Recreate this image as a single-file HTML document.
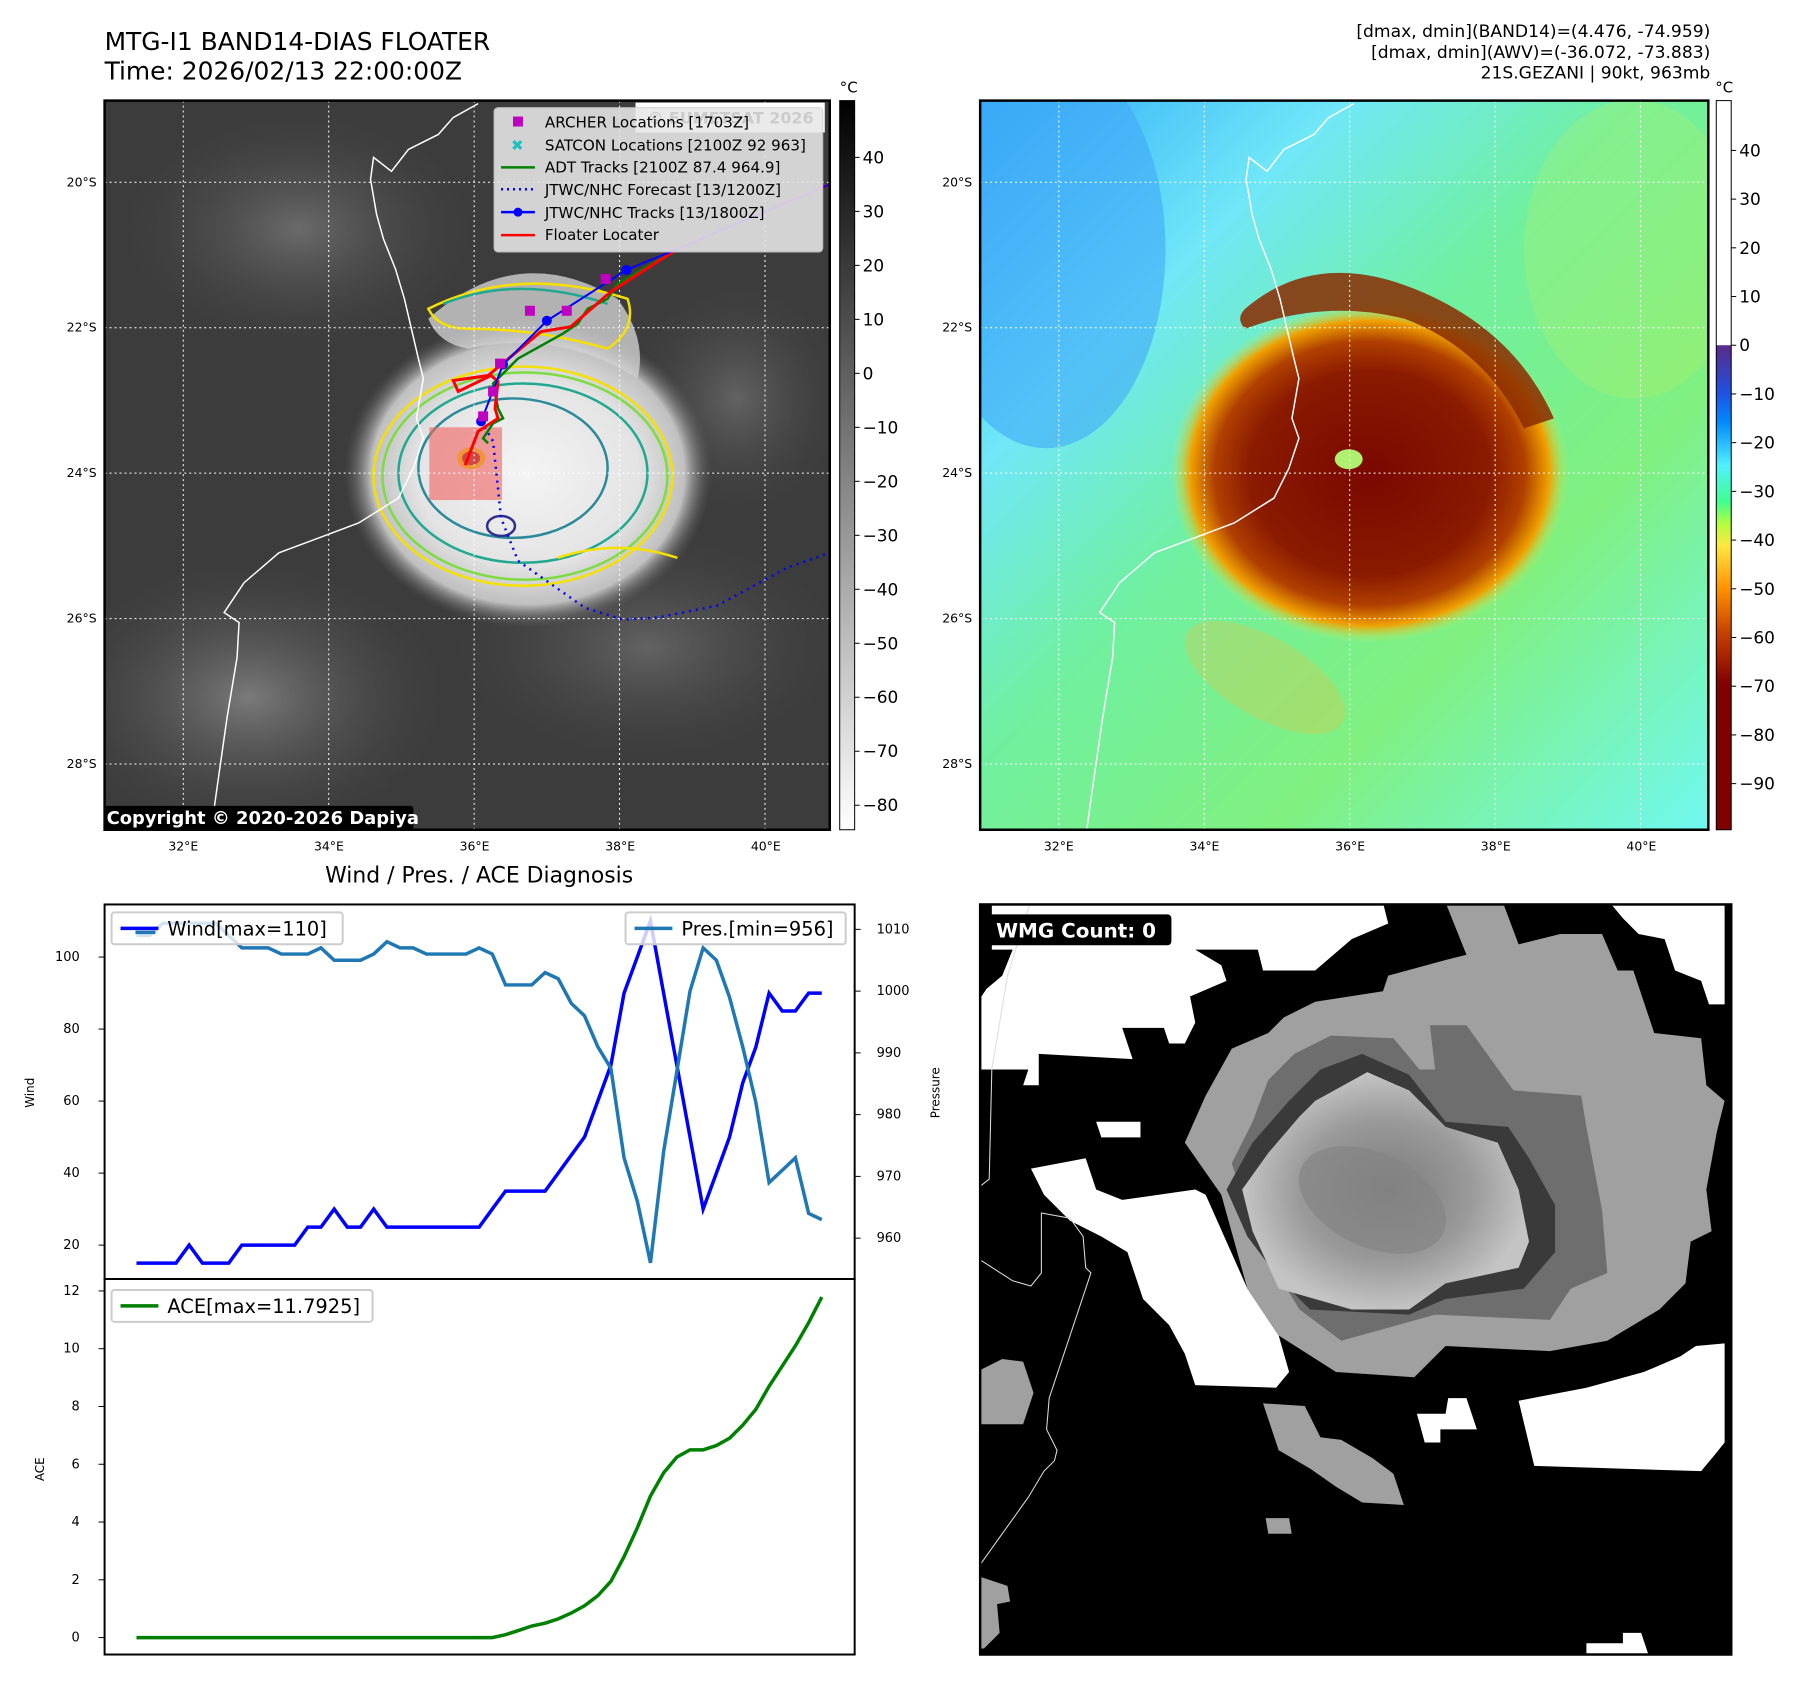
<!DOCTYPE html>
<html><head><meta charset="utf-8"><style>
html,body{margin:0;padding:0;background:#fff;}
svg{display:block;font-family:"DejaVu Sans","Liberation Sans",sans-serif;}
</style></head><body>
<svg id="root" width="1797" height="1690" viewBox="0 0 1797 1690" xmlns="http://www.w3.org/2000/svg">
<defs>
  <clipPath id="clipL"><rect x="105" y="101" width="728" height="732"/></clipPath>
  <clipPath id="clipR"><rect x="984" y="101" width="731" height="732"/></clipPath>
  <clipPath id="clipB"><rect x="984" y="908" width="754" height="753"/></clipPath>
  <linearGradient id="cbGray" x1="0" y1="0" x2="0" y2="1">
    <stop offset="0" stop-color="#000"/><stop offset="1" stop-color="#fff"/>
  </linearGradient>
  <linearGradient id="cbColor" x1="0" y1="0" x2="0" y2="1">
    <stop offset="0" stop-color="#fff"/><stop offset="0.335" stop-color="#fff"/>
    <stop offset="0.336" stop-color="#5a2a88"/><stop offset="0.40" stop-color="#2050e0"/>
    <stop offset="0.44" stop-color="#0088ff"/><stop offset="0.50" stop-color="#50f0ff"/>
    <stop offset="0.55" stop-color="#40ff90"/><stop offset="0.58" stop-color="#b0ff40"/>
    <stop offset="0.61" stop-color="#ffe840"/><stop offset="0.67" stop-color="#ff9000"/>
    <stop offset="0.73" stop-color="#c84000"/><stop offset="0.80" stop-color="#800000"/>
    <stop offset="1" stop-color="#800000"/>
  </linearGradient>
  <radialGradient id="cloudL" cx="0.5" cy="0.5" r="0.5">
    <stop offset="0" stop-color="#f4f4f4"/><stop offset="0.6" stop-color="#e4e4e4"/>
    <stop offset="0.85" stop-color="#c0c0c0"/><stop offset="1" stop-color="#606060" stop-opacity="0"/>
  </radialGradient>
  <radialGradient id="haze" cx="0.5" cy="0.5" r="0.5">
    <stop offset="0" stop-color="#8a8a8a"/><stop offset="1" stop-color="#4a4a4a" stop-opacity="0"/>
  </radialGradient>
  <linearGradient id="bgR" x1="0" y1="0" x2="1" y2="1">
    <stop offset="0" stop-color="#30a8f8"/><stop offset="0.25" stop-color="#70e8f8"/>
    <stop offset="0.45" stop-color="#70f0a0"/><stop offset="0.7" stop-color="#80f080"/>
    <stop offset="1" stop-color="#70f8f0"/>
  </linearGradient>
  <radialGradient id="stormR" cx="0.5" cy="0.5" r="0.5">
    <stop offset="0" stop-color="#7a0800"/><stop offset="0.6" stop-color="#8a1a00"/>
    <stop offset="0.78" stop-color="#b04000"/><stop offset="0.9" stop-color="#f0a000"/>
    <stop offset="1" stop-color="#c0f060" stop-opacity="0"/>
  </radialGradient>
  <radialGradient id="coreB" cx="0.5" cy="0.5" r="0.5">
    <stop offset="0" stop-color="#7a7a7a"/><stop offset="0.6" stop-color="#9a9a9a"/><stop offset="1" stop-color="#c4c4c4"/>
  </radialGradient>
</defs>
<g transform="scale(0.9961)">
<!-- Titles -->
<text x="105" y="50" font-size="25">MTG-I1 BAND14-DIAS FLOATER</text>
<text x="105" y="80" font-size="25">Time: 2026/02/13 22:00:00Z</text>
<g font-size="17.2" text-anchor="end">
  <text x="1717" y="37">[dmax, dmin](BAND14)=(4.476, -74.959)</text>
  <text x="1717" y="58">[dmax, dmin](AWV)=(-36.072, -73.883)</text>
  <text x="1717" y="79">21S.GEZANI | 90kt, 963mb</text>
</g>

<!-- Left IR map -->
<g clip-path="url(#clipL)">
  <rect x="105" y="101" width="728" height="732" fill="#3c3c3c"/>
  <ellipse cx="300" cy="230" rx="180" ry="120" fill="url(#haze)" opacity="0.6"/>
  <ellipse cx="250" cy="700" rx="200" ry="140" fill="url(#haze)" opacity="0.8"/>
  <ellipse cx="650" cy="650" rx="200" ry="120" fill="url(#haze)" opacity="0.5"/>
  <ellipse cx="740" cy="400" rx="110" ry="120" fill="url(#haze)" opacity="0.5"/>
  <ellipse cx="530" cy="475" rx="185" ry="155" fill="url(#cloudL)"/>
  <path d="M430,320 Q520,240 620,300 Q650,340 640,380 Q560,330 470,350 Q440,345 430,320Z" fill="#cfcfcf" opacity="0.8"/>
  <g fill="none" stroke-width="2.5">
    <ellipse cx="525" cy="478" rx="150" ry="110" stroke="#f5e000"/>
    <ellipse cx="527" cy="478" rx="143" ry="104" stroke="#7cdc40"/>
    <ellipse cx="525" cy="475" rx="125" ry="90" stroke="#20a890"/>
    <ellipse cx="515" cy="470" rx="95" ry="70" stroke="#2a8a9a"/>
    <path d="M430,310 Q520,265 630,300 Q640,330 610,350 Q540,330 470,330 Q440,330 430,310Z" stroke="#f5e000"/>
    <path d="M445,305 Q520,275 610,305" stroke="#20a890"/>
    <path d="M560,560 Q620,540 680,560" stroke="#f5e000"/>
    <ellipse cx="503" cy="528" rx="14" ry="10" stroke="#303090"/>
  </g>
  <ellipse cx="473" cy="460" rx="14" ry="11" fill="#f5e000"/>
  <ellipse cx="473" cy="460" rx="9" ry="7" fill="#a02010"/>
  <rect x="431" y="429" width="73" height="73" fill="#f06060" opacity="0.6"/>
  <g stroke="#fff" stroke-width="1" stroke-dasharray="2,3">
    <line x1="184" y1="101" x2="184" y2="833"/><line x1="330" y1="101" x2="330" y2="833"/><line x1="476" y1="101" x2="476" y2="833"/><line x1="622" y1="101" x2="622" y2="833"/><line x1="768" y1="101" x2="768" y2="833"/>
    <line x1="105" y1="183" x2="833" y2="183"/><line x1="105" y1="329" x2="833" y2="329"/><line x1="105" y1="475" x2="833" y2="475"/><line x1="105" y1="621" x2="833" y2="621"/><line x1="105" y1="767" x2="833" y2="767"/>
  </g>
  <polyline fill="none" stroke="#fff" stroke-width="1.5" points="480,104 455,118 440,135 410,150 393,172 375,158 372,180 378,215 385,240 397,270 406,300 413,330 420,360 425,380 418,420 425,440 415,470 400,500 360,525 320,540 280,555 245,585 225,615 240,625 238,660 228,720 218,790 212,833"/>
  <polyline fill="none" stroke="#0000ff" stroke-width="2.5" stroke-dasharray="2,5" points="483,423 495,443 503,520 520,563 587,610 625,622 660,620 720,608 790,570 833,555"/>
  <polyline fill="none" stroke="#008000" stroke-width="2.5" points="680,250 620,285 610,300 590,310 580,325 565,335 520,360 495,385 500,410 505,420 495,425 485,440 490,445"/>
  <polyline fill="none" stroke="#ff0000" stroke-width="3" points="833,185 680,250 613,293 573,328 543,333 490,377 455,382 460,393 493,377 500,383 497,410 500,420 480,433 467,467"/>
  <polyline fill="none" stroke="#0000ff" stroke-width="2" points="833,185 680,250 629,271 549,322 505,366 483,423"/>
  <g fill="#0000ff"><circle cx="629" cy="271" r="5"/><circle cx="549" cy="322" r="5"/><circle cx="505" cy="366" r="5"/><circle cx="483" cy="423" r="5"/></g>
  <g fill="#c000c0"><rect x="603" y="275" width="10" height="10"/><rect x="527" y="307" width="10" height="10"/><rect x="564" y="307" width="10" height="10"/><rect x="497" y="360" width="10" height="10"/><rect x="490" y="388" width="10" height="10"/><rect x="480" y="413" width="10" height="10"/></g>
  <rect x="104" y="809" width="311" height="24" fill="#000" rx="3"/>
  <text x="107" y="827" font-size="18" font-weight="bold" fill="#fff">Copyright © 2020-2026 Dapiya</text>
</g>
<rect x="105" y="101" width="728" height="732" fill="none" stroke="#000" stroke-width="2.5"/>
<!-- Legend -->
<g>
  <rect x="638" y="103" width="190" height="30" fill="#fff"/>
  <rect x="496" y="108" width="330" height="145" rx="4" fill="#e8e8e8" opacity="0.88" stroke="#ccc"/>
  <text x="650" y="124" font-size="16" font-weight="bold" fill="#ccc">© EUMETSAT 2026</text>
  <g font-size="15.2" fill="#000">
    <rect x="515" y="117" width="10" height="10" fill="#c000c0"/><text x="547" y="128">ARCHER Locations [1703Z]</text>
    <text x="513" y="151" fill="#20c0c0" font-weight="bold">✖</text><text x="547" y="151">SATCON Locations [2100Z 92 963]</text>
    <line x1="503" y1="168" x2="537" y2="168" stroke="#008000" stroke-width="2.5"/><text x="547" y="173">ADT Tracks [2100Z 87.4 964.9]</text>
    <line x1="503" y1="190" x2="537" y2="190" stroke="#0000ff" stroke-width="2.5" stroke-dasharray="2,4"/><text x="547" y="196">JTWC/NHC Forecast [13/1200Z]</text>
    <line x1="503" y1="213" x2="537" y2="213" stroke="#0000ff" stroke-width="2.5"/><circle cx="520" cy="213" r="4.5" fill="#0000ff"/><text x="547" y="219">JTWC/NHC Tracks [13/1800Z]</text>
    <line x1="503" y1="236" x2="537" y2="236" stroke="#ff0000" stroke-width="2.5"/><text x="547" y="241">Floater Locater</text>
  </g>
</g>
<!-- Left colorbar -->
<rect x="843" y="101" width="15" height="732" fill="url(#cbGray)" stroke="#000" stroke-width="1"/>
<text x="852" y="93" font-size="15" text-anchor="middle">°C</text>
<g id="cbL" font-size="17"></g>

<!-- Right AWV map -->
<g clip-path="url(#clipR)">
  <rect x="984" y="101" width="731" height="732" fill="url(#bgR)"/>
  <ellipse cx="1050" cy="250" rx="120" ry="200" fill="#40a8f8" opacity="0.6"/>
  <ellipse cx="1640" cy="250" rx="110" ry="150" fill="#d0f050" opacity="0.2"/>
  <ellipse cx="1270" cy="680" rx="90" ry="40" fill="#f0c040" opacity="0.3" transform="rotate(30 1270 680)"/>
  <ellipse cx="1375" cy="475" rx="200" ry="170" fill="url(#stormR)"/>
  <path d="M1250,310 Q1320,250 1420,290 Q1520,330 1560,420 L1530,430 Q1490,350 1410,320 Q1330,300 1250,330 Q1240,320 1250,310Z" fill="#8a2a00" opacity="0.85"/>
  <ellipse cx="1354" cy="461" rx="14" ry="10" fill="#b0f070"/>
  <g stroke="#fff" stroke-width="1" stroke-dasharray="2,3">
    <line x1="1063" y1="101" x2="1063" y2="833"/><line x1="1209" y1="101" x2="1209" y2="833"/><line x1="1355" y1="101" x2="1355" y2="833"/><line x1="1501" y1="101" x2="1501" y2="833"/><line x1="1647" y1="101" x2="1647" y2="833"/>
    <line x1="984" y1="183" x2="1715" y2="183"/><line x1="984" y1="329" x2="1715" y2="329"/><line x1="984" y1="475" x2="1715" y2="475"/><line x1="984" y1="621" x2="1715" y2="621"/><line x1="984" y1="767" x2="1715" y2="767"/>
  </g>
  <polyline fill="none" stroke="#fff" stroke-width="1.5" points="1359,104 1334,118 1319,135 1289,150 1272,172 1254,158 1251,180 1257,215 1264,240 1276,270 1285,300 1292,330 1299,360 1304,380 1297,420 1304,440 1294,470 1279,500 1239,525 1199,540 1159,555 1124,585 1104,615 1119,625 1117,660 1107,720 1097,790 1091,833"/>
</g>
<rect x="984" y="101" width="731" height="732" fill="none" stroke="#000" stroke-width="2.5"/>
<rect x="1723" y="101" width="15" height="732" fill="url(#cbColor)" stroke="#000" stroke-width="1"/>
<text x="1731" y="93" font-size="15" text-anchor="middle">°C</text>
<g id="cbR" font-size="17"></g>

<!-- map tick labels -->
<g id="mapTicks" font-size="12.5"></g>

<!-- Bottom-left chart -->
<text x="481" y="886" font-size="22" text-anchor="middle">Wind / Pres. / ACE Diagnosis</text>
<g id="chart"></g>

<!-- Bottom-right WMG -->
<g clip-path="url(#clipB)">
  <rect x="984" y="908" width="754" height="753" fill="#000"/>
  <g transform="translate(980,880) scale(0.5236)">
    <g fill="#fff">
      <polygon points="0,245 20,215 50,190 70,140 30,140 30,50 780,50 790,90 720,120 650,180 550,180 540,140 420,140 470,170 480,200 410,230 420,280 400,320 370,320 360,290 280,290 300,350 120,340 120,400 90,400 100,370 0,370"/>
      <polygon points="105,560 210,540 230,600 280,620 420,600 440,610 520,790 580,880 600,950 575,980 420,975 400,915 370,860 320,810 290,720 240,690 180,660 130,610"/>
      <polygon points="230,470 315,470 315,500 240,500"/>
      <polygon points="1040,1005 1170,980 1280,950 1350,920 1380,900 1435,895 1435,1085 1415,1110 1390,1140 1070,1130"/>
      <polygon points="1215,50 1435,50 1435,245 1405,245 1390,200 1340,180 1320,120 1270,110 1240,80"/>
      <polygon points="845,1030 900,1030 905,1000 940,1000 960,1060 890,1060 890,1085 860,1085"/>
      <polygon points="1170,1470 1240,1470 1240,1450 1275,1450 1290,1495 1170,1495"/>
    </g>
    <g fill="#a0a0a0">
      <polygon points="900,50 1010,50 1040,130 1120,110 1200,110 1230,180 1260,180 1300,300 1390,310 1400,400 1435,430 1420,490 1400,600 1410,680 1370,700 1360,780 1310,830 1210,890 1100,910 900,900 840,960 690,950 580,880 520,790 470,610 400,510 440,420 490,330 560,300 590,270 650,240 780,220 790,190 900,160 940,150"/>
      <polygon points="550,1010 630,1015 660,1075 700,1080 760,1115 800,1145 820,1205 740,1200 690,1170 640,1135 580,1100"/>
      <polygon points="555,1230 600,1230 605,1260 560,1260"/>
      <polygon points="0,950 50,925 90,930 110,990 90,1050 0,1050"/>
      <polygon points="0,1340 60,1360 65,1390 40,1395 45,1450 15,1480 0,1480"/>
    </g>
    <polygon fill="#6e6e6e" points="870,285 940,285 1030,410 1160,420 1170,480 1200,640 1210,760 1140,790 1100,850 880,840 700,890 620,830 540,700 490,550 530,470 560,390 610,340 680,305 800,310 850,370 880,370"/>
    <polygon fill="#3a3a3a" points="740,340 830,380 900,470 1020,480 1060,540 1110,630 1110,720 1050,790 900,810 830,840 640,830 580,770 520,690 480,600 530,510 600,430 660,370"/>
    <polygon fill="url(#coreB)" points="750,375 830,410 900,480 1000,510 1040,600 1060,700 1040,750 900,780 830,830 720,830 580,790 530,680 510,600 560,530 620,460 650,430"/>
    <ellipse cx="760" cy="620" rx="150" ry="90" fill="#848484" opacity="0.7" transform="rotate(25 760 620)"/>
    <polyline fill="none" stroke="#ddd" stroke-width="2" points="105,45 60,190 30,370 25,580 0,600"/>
    <polyline fill="none" stroke="#ddd" stroke-width="2" points="0,730 70,775 105,785 125,760 125,645 180,655 205,690 210,750 220,760 140,1000 135,1060 155,1100 150,1120 130,1140 100,1190 50,1260 0,1330"/>
  </g>
  <rect x="990" y="918" width="186" height="31" rx="4" fill="#000"/>
  <text x="1000" y="941" font-size="20" font-weight="bold" fill="#fff">WMG Count: 0</text>
</g>
<rect x="984" y="908" width="754" height="753" fill="none" stroke="#000" stroke-width="2.5"/>
</g>
<script>
// Chart data
const windValues = [15,15,15,15,20,15,15,15,20,20,20,20,20,25,25,30,25,25,30,25,25,25,25,25,25,25,25,30,35,35,35,35,40,45,50,60,70,90,100,110,90,70,50,30,40,50,65,75,90,85,85,90,90];
const presValues = [1009,1009,1011,1011,1011,1011,1011,1009,1007,1007,1007,1006,1006,1006,1007,1005,1005,1005,1006,1008,1007,1007,1006,1006,1006,1006,1007,1006,1001,1001,1001,1003,1002,998,996,991,987.5,973,966,956,974,987,1000,1007,1005,999,991,982,969,971,973,964,963];
const aceValues = [0,0,0,0,0,0,0,0,0,0,0,0,0,0,0,0,0,0,0,0,0,0,0,0,0,0,0,0,0.1,0.25,0.4,0.5,0.65,0.85,1.1,1.45,1.95,2.8,3.8,4.9,5.7,6.25,6.5,6.5,6.65,6.9,7.35,7.9,8.7,9.4,10.1,10.9,11.79];
const windTicks = [20,40,60,80,100];
const presTicks = [960,970,980,990,1000,1010];
const aceTicks = [0,2,4,6,8,10,12];
const irCbTicks = [40,30,20,10,0,-10,-20,-30,-40,-50,-60,-70,-80];
const awvCbTicks = [40,30,20,10,0,-10,-20,-30,-40,-50,-60,-70,-80,-90];
const lonTicks = [32,34,36,38,40];
const latTicks = [20,22,24,26,28];

const NS = 'http://www.w3.org/2000/svg';
function mk(tag, attrs, parent) {
  const e = document.createElementNS(NS, tag);
  for (const k in attrs) e.setAttribute(k, attrs[k]);
  parent.appendChild(e);
  return e;
}
const xIdx = i => 137 + i * (825 - 137) / (windValues.length - 1);
const yWind = w => 1250 - (w - 20) * 3.615;
const yPres = p => 1243 - (p - 960) * 6.2;
const yAce = a => 1644 - a * 29;

const chart = document.getElementById('chart');
let f1 = mk('rect', {x:105, y:908, width:753, height:376, fill:'none', stroke:'#000', 'stroke-width':2}, chart);


let f2 = mk('rect', {x:105, y:1284, width:753, height:377, fill:'none', stroke:'#000', 'stroke-width':2}, chart);



windTicks.forEach(t => {
  const y = yWind(t);
  mk('line', {x1:99, y1:y, x2:105, y2:y, stroke:'#000'}, chart);
  const tx = mk('text', {x:80, y:y+4, 'font-size':13, 'text-anchor':'end'}, chart);
  tx.textContent = t;
  
  
});
presTicks.forEach(t => {
  const y = yPres(t);
  mk('line', {x1:858, y1:y, x2:864, y2:y, stroke:'#000'}, chart);
  const tx = mk('text', {x:880, y:y+4, 'font-size':13}, chart);
  tx.textContent = t;
  
  
});
aceTicks.forEach(t => {
  const y = yAce(t);
  mk('line', {x1:99, y1:y, x2:105, y2:y, stroke:'#000'}, chart);
  const tx = mk('text', {x:80, y:y+4, 'font-size':13, 'text-anchor':'end'}, chart);
  tx.textContent = t;
  
  
});
function ylab(txt, x, y, name) {
  const t = mk('text', {x:x, y:y, 'font-size':12, 'text-anchor':'middle', transform:'rotate(-90 '+x+' '+y+')'}, chart);
  t.textContent = txt;
  
  
}
ylab('Wind', 34, 1097, 'wind-axis-title');
ylab('Pressure', 943, 1097, 'pressure-axis-title');
ylab('ACE', 44, 1475, 'ace-axis-title');

function series(vals, yf, color, name) {
  const pts = vals.map((v, i) => xIdx(i).toFixed(1) + ',' + yf(v).toFixed(1)).join(' ');
  const p = mk('polyline', {points:pts, fill:'none', stroke:color, 'stroke-width':3.5, 'stroke-linejoin':'miter'}, chart);
  
  
}
series(windValues, yWind, '#0000ff', 'wind-line');
series(presValues, yPres, '#1f77b4', 'pressure-line');
series(aceValues, yAce, '#008000', 'ace-line');

function legend(x, y, w, color, label, name, extra) {
  const g = mk('g', {}, chart);
  
  
  mk('rect', {x:x, y:y, width:w, height:32, rx:3, fill:'#fff', 'fill-opacity':0.8, stroke:'#ccc', 'stroke-width':2}, g);
  mk('line', {x1:x+9, y1:y+16, x2:x+47, y2:y+16, stroke:color, 'stroke-width':3.5}, g);
  if (extra) mk('line', {x1:x+24, y1:y+20, x2:x+44, y2:y+20, stroke:extra, 'stroke-width':3.5}, g);
  const t = mk('text', {x:x+56, y:y+23, 'font-size':19.5}, g);
  t.textContent = label;
}
legend(112, 916, 232, '#0000ff', 'Wind[max=110]', 'wind-legend', '#1f77b4');
legend(628, 916, 221, '#1f77b4', 'Pres.[min=956]', 'pressure-legend');
legend(112, 1295, 262, '#008000', 'ACE[max=11.7925]', 'ace-legend');

const cbL = document.getElementById('cbL');
irCbTicks.forEach(v => {
  const y = 158 + (40 - v) * 5.42;
  mk('line', {x1:858, y1:y, x2:863, y2:y, stroke:'#000'}, cbL);
  const t = mk('text', {x:866, y:y+6}, cbL);
  t.textContent = v < 0 ? '\u2212' + (-v) : v;
  
  
});
const cbR = document.getElementById('cbR');
awvCbTicks.forEach(v => {
  const y = 151 + (40 - v) * 4.89;
  mk('line', {x1:1738, y1:y, x2:1743, y2:y, stroke:'#000'}, cbR);
  const t = mk('text', {x:1746, y:y+6}, cbR);
  t.textContent = v < 0 ? '\u2212' + (-v) : v;
  
  
});
const mt = document.getElementById('mapTicks');
[0, 879].forEach(off => {
  lonTicks.forEach(l => {
    const x = 184 + (l - 32) * 73.1 + off;
    const t = mk('text', {x:x, y:854, 'text-anchor':'middle'}, mt);
    t.textContent = l + '°E';
    
    
  });
  latTicks.forEach(l => {
    const y = 183 + (l - 20) * 73 + 4;
    const t = mk('text', {x:off + 97, y:y, 'text-anchor':'end'}, mt);
    t.textContent = l + '°S';
    
    
  });
});
</script>
</body></html>
